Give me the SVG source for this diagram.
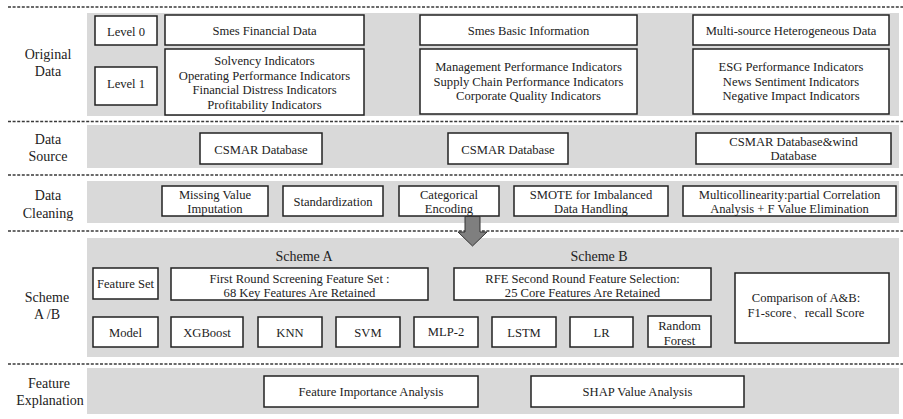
<svg xmlns="http://www.w3.org/2000/svg" width="903" height="419" viewBox="0 0 903 419">
  <style>
    .panel { fill: #d9d9d9; }
    .sep { stroke: #3a3a3a; stroke-width: 1.5; stroke-dasharray: 3 1.6; fill: none; }
    .box { fill: #ffffff; stroke: #222222; stroke-width: 1.5; }
    text { font-family: "Liberation Serif", "Times New Roman", serif; fill: #222222; text-anchor: middle; }
    .t { font-size: 12.6px; }
    .lab { font-size: 14px; }
    .arrow { fill: #7f7f7f; stroke: #333333; stroke-width: 1; }
  </style>

  <!-- background bands -->
  <g id="bands">
    <rect class="panel" x="87" y="13" width="812" height="103"/>
    <rect class="panel" x="87" y="125" width="812" height="43"/>
    <rect class="panel" x="87" y="181" width="812" height="42"/>
    <rect class="panel" x="87" y="238" width="812" height="119"/>
    <rect class="panel" x="87" y="368" width="812" height="46"/>
  </g>

  <!-- dashed row separators -->
  <g id="separators">
    <line class="sep" x1="8" y1="7" x2="903" y2="7"/>
    <line class="sep" x1="8" y1="121.5" x2="903" y2="121.5"/>
    <line class="sep" x1="8" y1="175" x2="903" y2="175"/>
    <line class="sep" x1="8" y1="231" x2="903" y2="231"/>
    <line class="sep" x1="8" y1="364" x2="903" y2="364"/>
  </g>

  <!-- row labels -->
  <g id="row-labels">
    <text class="lab" x="48" y="59">Original</text>
    <text class="lab" x="48" y="76">Data</text>
    <text class="lab" x="48" y="143.5">Data</text>
    <text class="lab" x="48" y="161">Source</text>
    <text class="lab" x="48" y="200">Data</text>
    <text class="lab" x="48" y="217.5">Cleaning</text>
    <text class="lab" x="47" y="302">Scheme</text>
    <text class="lab" x="47" y="319">A /B</text>
    <text class="lab" x="49" y="388">Feature</text>
    <text class="lab" x="50" y="405">Explanation</text>
  </g>

  <!-- Original Data -->
  <g id="level0">
    <rect class="box" x="95" y="16" width="62" height="29"/>
    <text class="t" x="126" y="35.5">Level 0</text>
  </g>
  <g id="level1">
    <rect class="box" x="95" y="67" width="62" height="38"/>
    <text class="t" x="126" y="87.5">Level 1</text>
  </g>
  <g id="smes-financial">
    <rect class="box" x="165" y="15" width="199" height="30"/>
    <text class="t" x="264.5" y="34.5">Smes Financial Data</text>
  </g>
  <g id="financial-indicators">
    <rect class="box" x="165" y="49" width="199" height="66"/>
    <text class="t" x="264.5" y="65">Solvency Indicators</text>
    <text class="t" x="264.5" y="79.7">Operating Performance Indicators</text>
    <text class="t" x="264.5" y="94.4">Financial Distress Indicators</text>
    <text class="t" x="264.5" y="109">Profitability Indicators</text>
  </g>
  <g id="smes-basic">
    <rect class="box" x="420" y="15" width="217" height="30"/>
    <text class="t" x="528.5" y="34.5">Smes Basic Information</text>
  </g>
  <g id="basic-indicators">
    <rect class="box" x="420" y="49" width="217" height="65"/>
    <text class="t" x="528.5" y="71">Management Performance Indicators</text>
    <text class="t" x="528.5" y="85.7">Supply Chain Performance Indicators</text>
    <text class="t" x="528.5" y="100.4">Corporate Quality Indicators</text>
  </g>
  <g id="multi-source">
    <rect class="box" x="693" y="15" width="196" height="30"/>
    <text class="t" x="791" y="34.5">Multi-source Heterogeneous Data</text>
  </g>
  <g id="multi-indicators">
    <rect class="box" x="693" y="49" width="196" height="65"/>
    <text class="t" x="791" y="71">ESG Performance Indicators</text>
    <text class="t" x="791" y="85.7">News Sentiment Indicators</text>
    <text class="t" x="791" y="100.4">Negative Impact Indicators</text>
  </g>

  <!-- Data Source -->
  <g id="csmar-1">
    <rect class="box" x="200" y="133" width="122" height="31"/>
    <text class="t" x="261" y="153.5">CSMAR Database</text>
  </g>
  <g id="csmar-2">
    <rect class="box" x="448" y="133" width="120" height="31"/>
    <text class="t" x="508" y="153.5">CSMAR Database</text>
  </g>
  <g id="csmar-wind">
    <rect class="box" x="696" y="133" width="195" height="31"/>
    <text class="t" x="793.5" y="145.5">CSMAR Database&amp;wind</text>
    <text class="t" x="793.5" y="160">Database</text>
  </g>

  <!-- Data Cleaning -->
  <g id="missing-value">
    <rect class="box" x="162" y="186" width="106" height="30"/>
    <text class="t" x="215" y="198.5">Missing Value</text>
    <text class="t" x="215" y="213">Imputation</text>
  </g>
  <g id="standardization">
    <rect class="box" x="283" y="186" width="100" height="30"/>
    <text class="t" x="333" y="205.5">Standardization</text>
  </g>
  <g id="categorical">
    <rect class="box" x="399" y="186" width="100" height="30"/>
    <text class="t" x="449" y="198.5">Categorical</text>
    <text class="t" x="449" y="213">Encoding</text>
  </g>
  <g id="smote">
    <rect class="box" x="514" y="186" width="154" height="30"/>
    <text class="t" x="591" y="198.5">SMOTE for Imbalanced</text>
    <text class="t" x="591" y="213">Data Handling</text>
  </g>
  <g id="multicollinearity">
    <rect class="box" x="683" y="186" width="213" height="30"/>
    <text class="t" x="789.5" y="198.5">Multicollinearity:partial Correlation</text>
    <text class="t" x="789.5" y="213">Analysis + F Value Elimination</text>
  </g>

  <!-- flow arrow into the scheme stage -->
  <g id="connectors">
    <polygon class="arrow" points="465,216.5 480,216.5 480,232 487,232 472.5,246 458,232 465,232"/>
  </g>

  <!-- Scheme A / B -->
  <g id="scheme-titles">
    <text class="lab" x="304" y="261">Scheme A</text>
    <text class="lab" x="599" y="261">Scheme B</text>
  </g>
  <g id="feature-set">
    <rect class="box" x="93" y="268" width="65" height="31"/>
    <text class="t" x="125.5" y="288">Feature Set</text>
  </g>
  <g id="first-round">
    <rect class="box" x="171" y="268" width="257" height="32"/>
    <text class="t" x="299.5" y="283">First Round Screening Feature Set :</text>
    <text class="t" x="299.5" y="297">68 Key Features Are Retained</text>
  </g>
  <g id="rfe-round">
    <rect class="box" x="454" y="268" width="257" height="32"/>
    <text class="t" x="582.5" y="283">RFE Second Round Feature Selection:</text>
    <text class="t" x="582.5" y="297">25 Core Features Are Retained</text>
  </g>
  <g id="comparison">
    <rect class="box" x="735" y="273" width="154" height="70"/>
    <text class="t" x="806" y="302">Comparison of A&amp;B:</text>
    <text class="t" x="806" y="317">F1-score、recall Score</text>
  </g>
  <g id="model">
    <rect class="box" x="93" y="317" width="65" height="30"/>
    <text class="t" x="125.5" y="336.5">Model</text>
  </g>
  <g id="xgboost">
    <rect class="box" x="171" y="317" width="72" height="30"/>
    <text class="t" x="207" y="337">XGBoost</text>
  </g>
  <g id="knn">
    <rect class="box" x="258" y="317" width="64" height="30"/>
    <text class="t" x="290" y="337">KNN</text>
  </g>
  <g id="svm">
    <rect class="box" x="336" y="317" width="64" height="30"/>
    <text class="t" x="368" y="337">SVM</text>
  </g>
  <g id="mlp-2">
    <rect class="box" x="414" y="317" width="64" height="30"/>
    <text class="t" x="446" y="336">MLP-2</text>
  </g>
  <g id="lstm">
    <rect class="box" x="492" y="317" width="64" height="30"/>
    <text class="t" x="524" y="337">LSTM</text>
  </g>
  <g id="lr">
    <rect class="box" x="570" y="317" width="63" height="30"/>
    <text class="t" x="601.5" y="337">LR</text>
  </g>
  <g id="random-forest">
    <rect class="box" x="648" y="316" width="63" height="31"/>
    <text class="t" x="679.5" y="330">Random</text>
    <text class="t" x="679.5" y="344.5">Forest</text>
  </g>

  <!-- Feature Explanation -->
  <g id="feature-importance">
    <rect class="box" x="264" y="376" width="214" height="31"/>
    <text class="t" x="371" y="396">Feature Importance Analysis</text>
  </g>
  <g id="shap">
    <rect class="box" x="531" y="376" width="213" height="31"/>
    <text class="t" x="637.5" y="396">SHAP Value Analysis</text>
  </g>
</svg>
